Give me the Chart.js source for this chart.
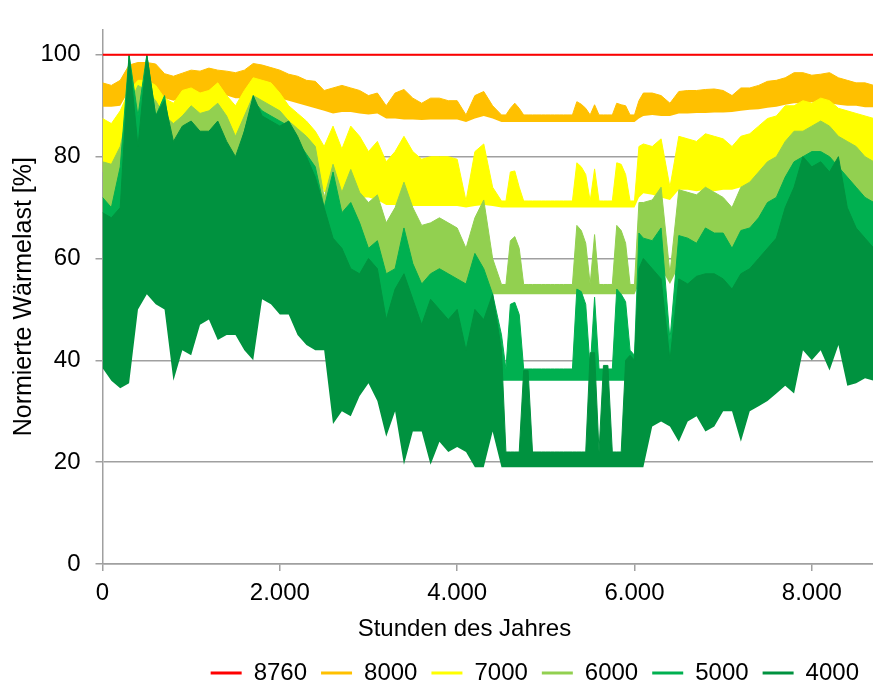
<!DOCTYPE html>
<html lang="de">
<head>
<meta charset="utf-8" />
<title>Normierte Wärmelast</title>
<style>
  html, body { margin: 0; padding: 0; background: #fff; }
</style>
</head>
<body>
<div style="width:873px;height:686px">
  <canvas id="canvas" width="873" height="686"></canvas>
</div>

<script src="https://cdn.jsdelivr.net/npm/chart.js"></script>
<script>
// hours of the year (finer in summer where the load sits on its floor)
const hours = [0,100,200,300,400,500,600,700,800,900,1000,1100,1200,1300,1400,1500,1600,1700,1800,1900,2000,2100,2200,2300,2400,2500,2600,2700,2800,2900,3000,3100,3200,3300,3400,3500,3600,3700,3800,3900,4000,4100,4200,4300,4400,4500,
  4550,4600,4650,4700,4750,4800,4850,4900,4950,5000,5050,5100,5150,5200,5250,5300,5350,5400,5450,5500,5550,5600,5650,5700,5750,5800,5850,5900,5950,6000,6050,6100,
  6200,6300,6400,6500,6600,6700,6800,6900,7000,7100,7200,7300,7400,7500,7600,7700,7800,7900,8000,8100,8200,8300,8400,8500,8600,8700];

const xTicks = [0, 2000, 4000, 6000, 8000];
const yTicks = [0, 20, 40, 60, 80, 100];

// 8760 h: constant line
const hours8760 = [0, 8760];
const line8760 = [100, 100];

// each band: upper / lower edge
const hi8000 = [94.5,94,95,98,98.5,98.5,98.2,96.3,95.8,96.4,97,96.8,97.4,97,96.8,96.5,97,98.3,98,97.5,97,96.2,95.8,95,94.8,93,93.5,94,93.5,93,92,92.5,90,92.5,93.2,91.5,90.5,91.5,91.5,91,91,88.2,92,92.8,90,88.2,
  88.2,89.5,90.5,89.5,88.2,88.2,88.2,88.2,88.2,88.2,88.2,88.2,88.2,88.2,88.2,88.2,90.8,90.3,89.5,88.2,90.2,88.2,88.2,88.2,88.2,90.5,90.2,90,88.2,88.2,91,92.5,
  92.5,92,90.5,92.8,93,93,93.2,93.3,93,92,93.5,93.5,94,94.8,95,95.5,96.5,96.5,96,96.2,96.5,95.5,95,94.5,94.5,94];
const lo8000 = [89.8,89.8,90,93,93.5,93.5,93,91.5,91,91.5,92,92,92.5,92,92,91.5,91.5,92,92,92,91.5,91,90.5,90,89.5,89,88.5,88.8,88.8,88.5,88.3,88.5,87.5,87.5,87.3,87.3,87.2,87.3,87.3,87.3,87.3,86.8,87.5,88,87.5,86.8,
  86.8,86.8,86.8,86.8,86.8,86.8,86.8,86.8,86.8,86.8,86.8,86.8,86.8,86.8,86.8,86.8,86.8,86.8,86.8,86.8,86.8,86.8,86.8,86.8,86.8,86.8,86.8,86.8,86.8,86.8,87.5,88,
  88.2,88,88,88.5,88.5,88.6,88.6,88.7,88.7,88.8,89,89.2,89.3,89.6,89.8,90.2,90.5,90.5,90.7,90.7,90.5,90.2,90,90,89.7,89.7];

const hi7000 = [87.5,86.5,89,93,95,95,94,91.5,90.5,93,93.5,92.5,93,94.5,92,90,93,95.5,95,94.5,92.5,90,88.5,87,85,82,86,81.5,86,84,81,83,79,81,84,81,79.5,80,80,80,79.5,71.3,81,82.5,74,71.3,
  71.3,77,77.2,74,71.3,71.3,71.3,71.3,71.3,71.3,71.3,71.3,71.3,71.3,71.3,71.3,78.8,78,76.5,71.3,77.6,71.3,71.3,71.3,71.3,78.8,78.5,76.5,71.3,71.3,82,82.5,
  82,83.5,74,84,83.5,83,84.5,84,83.5,82,84,84.5,86,87.5,88,90,90,91,90.5,91.5,91,89.5,89,88.5,88,87.5];
const lo7000 = [77,77,80,86,88,88,86,84,83,85,86,85,85,86,84,80,84,88,88,87,86,84,82,80,78,73,74,72.5,73,72,72,71.5,70.5,70.5,70.5,70.3,70.3,70.3,70.3,70.3,70.3,70,70.3,70.5,70.3,70,
  70,70,70,70,70,70,70,70,70,70,70,70,70,70,70,70,70,70,70,70,70,70,70,70,70,70,70,70,70,70,72,72.8,
  72.5,72,71.5,73.5,73.5,73.2,73.5,73.2,73.5,73.5,74,74.5,75,75.5,76.5,77,78,78,78,78,78,77,77,76.5,76,75.5];

const hi6000 = [79,78.5,82,90,94,93,91,88,86.5,88,90,88.5,89,90.5,88,84,88,92,91,90,89,87,85.5,84,82,72,78.5,73,77.5,73,71,72.5,67,70,75,70,66.5,67,68,67,66,62,68,71.5,60,54.9,
  54.9,63.5,64.3,62,54.9,54.9,54.9,54.9,54.9,54.9,54.9,54.9,54.9,54.9,54.9,54.9,66.5,65.5,63,54.9,64.7,54.9,54.9,54.9,54.9,66.5,65.5,63,54.9,54.9,71,71,
  71.5,74,57,73.5,73,72.5,74,73,72,70,74,75,77,79,80,83,85,85,86,87,86,84,83,82,80,79];
const lo6000 = [68,67,72,80,85,85,82,79,77,79,81,79,80,81,79,75,79,83,82,81,80,78,76,74,72,62,64,61,62,60,58,57,55,55,56,54,53.5,53.5,53.5,53.5,53.5,53.5,53.5,53.5,53,53,
  53,53,53,53,53,53,53,53,53,53,53,53,53,53,53,53,53,53,53,53,53,53,53,53,53,53,53,53,53,53,55,56,
  57,58,55,58.5,58.5,58,58.5,58.5,58.5,59,60,61,62,63,65,66,67,67,68,68,68,67,66,66,65,65];

const hi5000 = [72,70,78,100,88,100,88,92,80,84,86,83,84,86,82,78,85,91,89,88,87,86,83,80.5,78,70,77,69,71,67,62,63.5,57,58,66,59,55,57,58,57,56,55,61,58,53,45,
  38.3,51,51.4,49,38.3,38.3,38.3,38.3,38.3,38.3,38.3,38.3,38.3,38.3,38.3,38.3,54,53.5,51,38.3,52.4,38.3,38.3,38.3,38.3,54,53,51.5,42,41,65,64,
  63.5,66,44,64.5,64,63,66,65,65,62,65.5,66,68,71,72,76,79,80,81,81,80,78,76,74,72,71];
const lo5000 = [50,50,55,60,62,62,60,58,55,56,57,57,57,57,56,55,58,60,60,59,58,57,55,53,50,46,45,44,44,44,45,45,44,44,45,44,44,43,42,42,42,41.5,42,42,38,36,
  36,36,36,36,36,36,36,36,36,36,36,36,36,36,36,36,36,36,36,36,36,36,36,36,36,36,36,36,36,36,40,42,
  41,42,40,40.5,42,44,45,46,46,46.5,47,48,49,50,51,52,53,53,54,54,53,52,52,51,50,50];

const hi4000 = [69,68,70,100,82,100,88,91,83,86,87,85,85,87,83,80,85,92,88,87,86,87,84,80,76,70,64,62,58,57,60,58,48,54,57,52,47,52,50,48,50,42,50,48,53,42,
  22,22,22,22,38,38,22,22,22,22,22,22,22,22,22,22,22,22,22,41.5,41.5,22,39,39,22,22,22,40,41,40,58,60,
  58,56,40,56,55,56.5,57,57,56,54,57,58,60,62,64,70,74,80,78,79,77,80,70,66,64,62];
const lo4000 = [38.5,36,34.5,35.5,50,53,51,50,36,42,41,47,48,44,45,45,42,40,52,51,49,49,45,43,42,42,27.5,30,29,33,35.5,32,25,30,19.5,26,26,19.5,24,22,23,22,19,19,26,19,
  19,19,19,19,19,19,19,19,19,19,19,19,19,19,19,19,19,19,19,19,19,19,19,19,19,19,19,19,19,19,19,19,
  27,28,27,24,28,29,26,27,30,30,24,30,31,32,33.5,35,33.5,42,40,42,38,43,35,35.5,36.5,36];

const FONT = "Arial, 'Liberation Sans', sans-serif";
Chart.defaults.font.family = FONT;
Chart.defaults.font.size = 24;
Chart.defaults.color = "#000";

const toPoints = (values) => values.map((v, i) => ({ x: hours[i], y: v }));

// German thousands separator: 2000 -> "2.000"
const fmt = (v) => v >= 1000 ? Math.floor(v / 1000) + "." + String(v % 1000).padStart(3, "0") : String(v);

const upper = (label, values, color, lowerIndex, order) => ({
  label: label,
  data: toPoints(values),
  borderColor: color,
  backgroundColor: color,
  borderWidth: 1,
  pointRadius: 0,
  fill: lowerIndex,
  order: order,
});

const lower = (label, values) => ({
  label: label,
  data: toPoints(values),
  borderWidth: 0,
  pointRadius: 0,
  fill: false,
  order: 10,
});

const ctx = document.getElementById("canvas");

new Chart(ctx, {
  type: "line",
  data: {
    datasets: [
      {
        label: "8760",
        data: hours8760.map((h, i) => ({ x: h, y: line8760[i] })),
        borderColor: "#ff0000",
        backgroundColor: "#ff0000",
        borderWidth: 2,
        pointRadius: 0,
        fill: false,
        order: 0,
      },
      upper("8000", hi8000, "#ffc000", 6, 5),
      upper("7000", hi7000, "#ffff00", 7, 4),
      upper("6000", hi6000, "#92d050", 8, 3),
      upper("5000", hi5000, "#00b050", 9, 2),
      upper("4000", hi4000, "#00923f", 10, 1),
      lower("8000 min", lo8000),
      lower("7000 min", lo7000),
      lower("6000 min", lo6000),
      lower("5000 min", lo5000),
      lower("4000 min", lo4000),
    ],
  },
  options: {
    responsive: false,
    devicePixelRatio: 1,
    animation: false,
    events: [],
    layout: { padding: { top: 8, bottom: -9, left: 0, right: 0 } },
    scales: {
      x: {
        type: "linear",
        min: 0,
        max: 8690,
        ticks: { padding: 8, maxRotation: 0, autoSkip: false, callback: (v) => fmt(v) },
        afterBuildTicks: (s) => { s.ticks = xTicks.map((v) => ({ value: v })); },
        afterFit: (s) => { s.height = 83; },
        grid: { drawOnChartArea: false, tickLength: 7, color: "#a0a0a0", lineWidth: 1.5 },
        border: { color: "#a0a0a0", width: 1.5 },
        title: {
          display: true,
          text: "Stunden des Jahres" + "\u00a0".repeat(7),
          font: { size: 24 },
          padding: { top: 0, bottom: 3 },
        },
      },
      y: {
        min: 0,
        max: 105,
        ticks: { padding: 15, autoSkip: false },
        afterBuildTicks: (s) => { s.ticks = yTicks.map((v) => ({ value: v })); },
        afterFit: (s) => { s.width = 102.5; },
        grid: { color: "#a0a0a0", lineWidth: 1.5, tickLength: 7 },
        border: { color: "#a0a0a0", width: 1.5 },
        title: {
          display: true,
          text: "Normierte Wärmelast [%]",
          font: { size: 25 },
          padding: { top: 9, bottom: 0 },
        },
      },
    },
    plugins: {
      tooltip: { enabled: false },
      legend: {
        position: "bottom",
        align: "end",
        labels: {
          boxWidth: 31,
          boxHeight: 3,
          padding: 14,
          font: { size: 24 },
          filter: (item) => item.datasetIndex < 6,
          sort: (a, b) => a.datasetIndex - b.datasetIndex,
          generateLabels: (chart) =>
            Chart.defaults.plugins.legend.labels.generateLabels(chart).map((l) =>
              Object.assign(l, { fillStyle: l.strokeStyle, lineWidth: 0 })
            ),
        },
      },
    },
  },
});
</script>
</body>
</html>
